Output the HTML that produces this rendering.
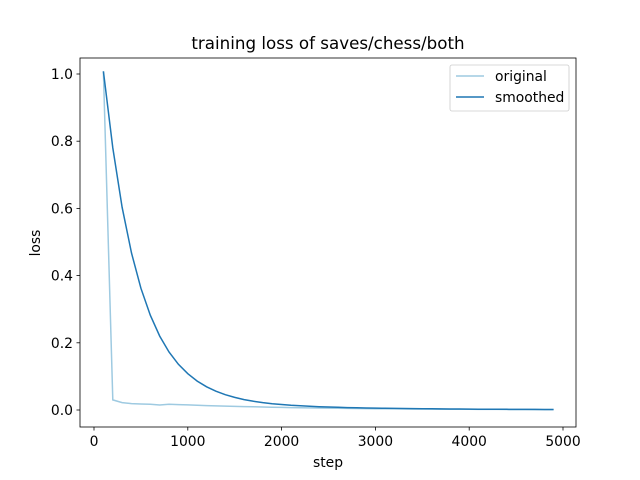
<!DOCTYPE html>
<html><head><style>body{margin:0;background:#fff}svg{display:block}</style></head><body>
<svg id="c" width="640" height="480" xmlns="http://www.w3.org/2000/svg" font-family="DejaVu Sans, Liberation Sans, sans-serif" font-size="13.9">
<rect width="640" height="480" fill="#fff"/>
<text x="328" y="49" text-anchor="middle" font-size="16.7">training loss of saves/chess/both</text>
<g id="lines"></g>
<rect x="80" y="58" width="496" height="369" fill="none" stroke="#000" stroke-width="0.8"/>
<g stroke="#000" stroke-width="0.8" id="ticks"></g>
<g id="labels"></g>
<text x="328" y="467" text-anchor="middle">step</text>
<text transform="translate(40,243) rotate(-90)" text-anchor="middle">loss</text>
<rect x="450" y="65" width="119" height="46" fill="#fff" fill-opacity="0.8" stroke="#ccc" stroke-width="0.8" rx="2"/>
<line x1="456" y1="76" x2="484" y2="76" stroke="#9ecae1" stroke-width="1.5"/>
<text x="495" y="81">original</text>
<line x1="456" y1="97" x2="484" y2="97" stroke="#1f77b4" stroke-width="1.5"/>
<text x="495" y="102">smoothed</text>
</svg>
<script>
const X=s=>94+s*0.0938, Y=v=>410-v*336;
let o=[],sm=[],s=null;
for(let st=100;st<=4900;st+=100){
 let v;
 if(st==100)v=1.008;else if(st==200)v=0.03;else v=Math.max(0.001,0.024*Math.exp(-(st-300)/1500));
 if(st>=300&&st<=700)v=[0.022,0.019,0.018,0.017,0.015][(st-300)/100];
 s=s===null?v:0.767*s+0.233*v;
 o.push(X(st).toFixed(1)+','+Y(v).toFixed(1));sm.push(X(st).toFixed(1)+','+Y(s).toFixed(1));
}
let g=document.getElementById('lines');
g.innerHTML=`<polyline points="${o.join(' ')}" fill="none" stroke="#9ecae1" stroke-width="1.5"/><polyline points="${sm.join(' ')}" fill="none" stroke="#1f77b4" stroke-width="1.5"/>`;
let t='',l='';
for(let i=0;i<=5;i++){let x=X(i*1000);t+=`<line x1="${x}" y1="427" x2="${x}" y2="430.5"/>`;l+=`<text x="${x}" y="446" text-anchor="middle">${i*1000}</text>`;}
for(let i=0;i<=5;i++){let v=i*0.2,y=Y(v);t+=`<line x1="76.5" y1="${y}" x2="80" y2="${y}"/>`;l+=`<text x="73" y="${y+5}" text-anchor="end">${v.toFixed(1)}</text>`;}
document.getElementById('ticks').innerHTML=t;document.getElementById('labels').innerHTML=l;
</script>
</body></html>
